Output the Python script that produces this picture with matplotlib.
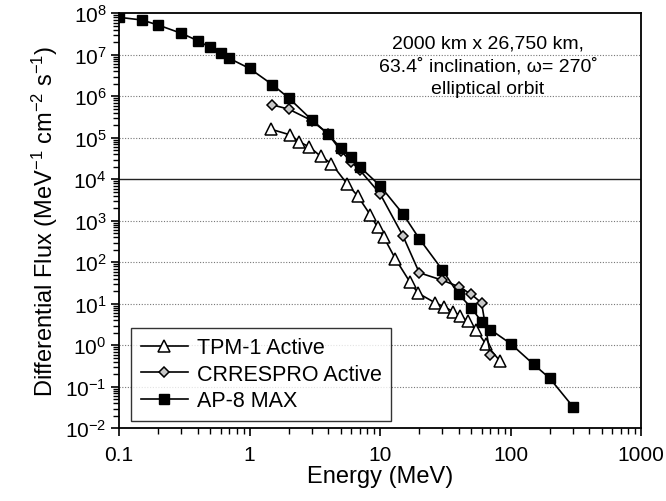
import numpy as np
import matplotlib
matplotlib.use("Agg")
import matplotlib.pyplot as plt
from matplotlib.ticker import LogLocator, NullFormatter, FixedLocator

plt.rcParams['font.family'] = ['Liberation Sans', 'DejaVu Sans']
plt.rcParams['mathtext.default'] = 'regular'

# AP-8 MAX model spectrum
ap8_e = [0.1, 0.15, 0.2, 0.3, 0.4, 0.5, 0.6, 0.7, 1, 1.5, 2, 3, 4, 5, 6, 7,
         10, 15, 20, 30, 40, 50, 60, 70, 100, 150, 200, 300]
ap8_f = [8.0e7, 6.9e7, 5.2e7, 3.3e7, 2.2e7, 1.5e7, 1.1e7, 8.2e6, 4.7e6, 1.9e6,
         9.1e5, 2.7e5, 1.24e5, 5.6e4, 3.4e4, 2.0e4, 7.0e3, 1.46e3, 3.7e2, 66,
         17, 8.1, 3.7, 2.4, 1.1, 0.35, 0.16, 0.0335]

# TPM-1 active measurement
tpm_e = [1.47, 2.06, 2.41, 2.88, 3.51, 4.24, 5.61, 6.73, 8.41, 9.57, 10.7,
         13.1, 17.0, 19.6, 26.4, 31.0, 36.3, 41.3, 46.9, 54.7, 64.7, 83.5]
tpm_f = [1.6e5, 1.17e5, 8.0e4, 6.0e4, 3.6e4, 2.4e4, 7.7e3, 4.0e3, 1.4e3, 700,
         400, 122, 33, 18, 10.6, 8.5, 6.5, 5.2, 3.8, 2.3, 1.07, 0.41]

# CRRESPRO active model
crr_e = [1.5, 2, 3, 4, 5, 6, 7, 10, 15, 20, 30, 40, 50, 60, 70]
crr_f = [6.2e5, 4.9e5, 2.6e5, 1.24e5, 4.9e4, 2.65e4, 1.67e4, 4.5e3, 430, 56,
         37, 26, 17, 10.5, 0.58]

orbit_text = "2000 km x 26,750 km,\n63.4˚ inclination, ω= 270˚\nelliptical orbit"

fig = plt.figure(figsize=(6.66, 5.02), dpi=100)
ax = fig.add_axes([0.1787, 0.1448, 0.7838, 0.8267])
ax.set_xscale('log')
ax.set_yscale('log')
ax.set_xlim(0.1, 1000)
ax.set_ylim(1e-2, 1e8)

# horizontal grid, the 1e4 line is drawn solid
for k in range(-1, 8):
    if k == 4:
        ax.axhline(10.0**k, color='#222222', lw=1.0, zorder=1)
    else:
        ax.axhline(10.0**k, color='#777777', lw=0.8, ls=(0, (1, 1.5)), zorder=1)

ax.plot(tpm_e, tpm_f, '-^', color='black', lw=1.2, ms=8,
        mfc='white', mec='black', mew=1.1, label='TPM-1 Active', zorder=3)
ax.plot(crr_e, crr_f, '-D', color='black', lw=1.2, ms=5.5,
        mfc='#c8c8c8', mec='black', mew=1.1, label='CRRESPRO Active', zorder=3)
ax.plot(ap8_e, ap8_f, '-s', color='black', lw=1.2, ms=6.5,
        mfc='black', mec='black', label='AP-8 MAX', zorder=4)

ax.set_xticks([0.1, 1, 10, 100, 1000])
ax.set_xticklabels(['0.1', '1', '10', '100', '1000'])
ax.xaxis.set_minor_locator(LogLocator(base=10, subs=np.arange(2, 10)))
ax.xaxis.set_minor_formatter(NullFormatter())
ax.yaxis.set_major_locator(FixedLocator([10.0**k for k in range(-2, 9)]))
ax.set_yticklabels(['$10^{%d}$' % k for k in range(-2, 9)])
ax.yaxis.set_minor_locator(LogLocator(base=10, subs=np.arange(2, 10), numticks=20))
ax.yaxis.set_minor_formatter(NullFormatter())

ax.tick_params(axis='x', which='major', direction='out', length=6, width=1.2,
               labelsize=15, pad=6)
ax.tick_params(axis='x', which='minor', direction='out', length=4, width=1.0)
ax.tick_params(axis='y', which='major', direction='out', length=6, width=1.2,
               labelsize=15, pad=3)
ax.tick_params(axis='y', which='minor', direction='out', length=4, width=1.0)

for s in ax.spines.values():
    s.set_linewidth(1.3)
    s.set_color('black')

ax.set_xlabel('Energy (MeV)', fontsize=17, labelpad=1)
ax.set_ylabel('Differential Flux (MeV$^{-1}$ cm$^{-2}$ s$^{-1}$)', fontsize=17,
              labelpad=4)

ax.text(0.707, 0.873, orbit_text, transform=ax.transAxes, ha='center',
        va='center', fontsize=14, linespacing=1.4)

leg = ax.legend(loc='lower left', bbox_to_anchor=(0.023, 0.018), fontsize=15.5,
                frameon=True, fancybox=False, edgecolor='black',
                handlelength=2.2, borderpad=0.45, labelspacing=0.25,
                handletextpad=0.4, borderaxespad=0)
leg.get_frame().set_linewidth(1.0)

plt.savefig('out.png', dpi=100)
